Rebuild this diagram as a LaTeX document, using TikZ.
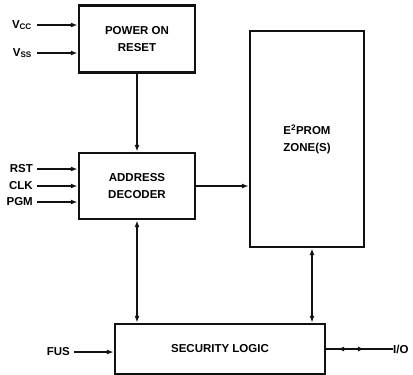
\documentclass[tikz,border=0pt]{standalone}
\usepackage{fontspec}
\setmainfont{Liberation Sans}
\usetikzlibrary{arrows.meta,calc,positioning,decorations.markings}
\definecolor{blkink}{HTML}{111111}
\tikzset{
  blockbox/.style={draw=blkink,line width=2.4pt,fill=white,inner sep=0pt,
    align=center,font=\fontsize{11.5}{16.5}\selectfont\bfseries},
  sigline/.style={draw=blkink,line width=1.5pt},
  sigarrow/.style={sigline,-{Latex[length=7pt,width=5pt]}},
  sigboth/.style={sigline,{Latex[length=7pt,width=5pt]}-{Latex[length=7pt,width=5pt]}},
  siglabel/.style={anchor=east,inner sep=0pt,font=\fontsize{11.5}{13}\selectfont\bfseries},
}

\begin{document}
\begin{tikzpicture}[x=1pt,y=-1pt]
        \path[use as bounding box] (0,0) rectangle (413,375);
        \node[blockbox,minimum width=116pt,minimum height=67pt] (por) at (137,39)
          {POWER ON\\RESET};
        \node[blockbox,minimum width=116pt,minimum height=66pt] (ad) at (137,186)
          {ADDRESS\\DECODER};
        \node[blockbox,minimum width=114pt,minimum height=216pt] (ep) at (307,139)
          {E\textsuperscript{2}PROM\\ZONE(S)};
        \node[blockbox,minimum width=210pt,minimum height=50pt] (sl) at (220,349)
          {SECURITY LOGIC};
        % supply inputs
        \foreach \n/\t/\y in {vcc/V\textsubscript{CC}/25,vss/V\textsubscript{SS}/53}
          {\node[siglabel] (\n) at (32,\y) {\t};
           \draw[sigarrow] ($(\n.east)+(5,0)$) -- (\n -| por.west);}
        % control inputs
        \foreach \n/\t/\y in {rst/RST/169,clk/CLK/186,pgm/PGM/202}
          {\node[siglabel] (\n) at (33,\y) {\t};
           \draw[sigarrow] ($(\n.east)+(4,0)$) -- (\n -| ad.west);}
        \node[siglabel] (fus) at (70,352) {FUS};
        \draw[sigarrow] ($(fus.east)+(4,0)$) -- (fus -| sl.west);
        % internal paths
        \draw[sigarrow] (por) -- (ad);
        \draw[sigarrow] (ad) -- (ad -| ep.west);
        \draw[sigboth] (ad) -- (ad |- sl.north);
        \draw[sigboth] (312,0 |- ep.south) -- (312,0 |- sl.north);
        % I/O port
        \coordinate (io) at (393,349);
        \node[siglabel,anchor=west] (iol) at (io) {I/O};
        \draw[sigline,decoration={markings,
            mark=at position 0.27 with {\arrow{Latex[length=7pt,width=5pt,reversed]}},
            mark=at position 0.58 with {\arrow{Latex[length=7pt,width=5pt]}}},
          postaction={decorate}] (sl.east |- io) -- (io);
      \end{tikzpicture}
\end{document}
